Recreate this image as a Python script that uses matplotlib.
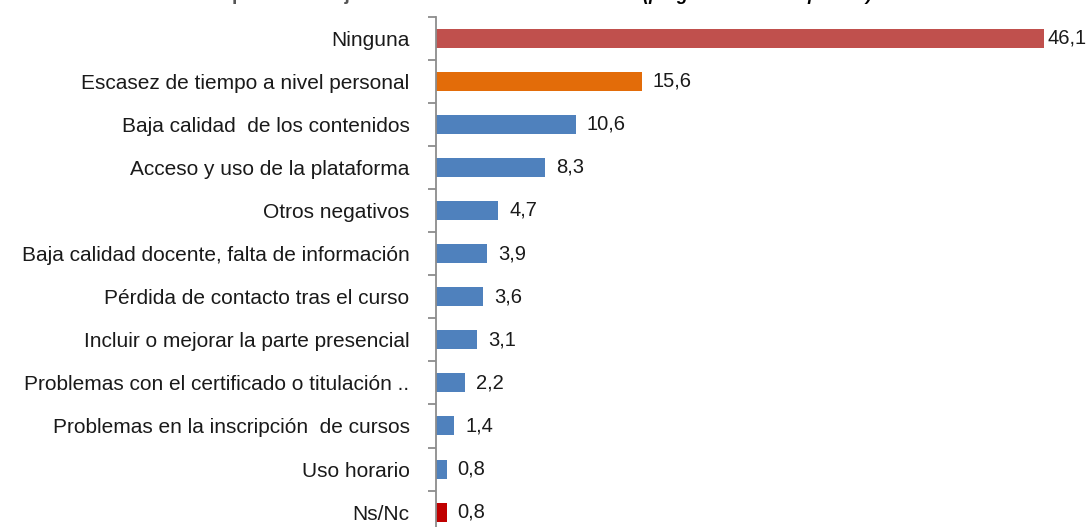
import matplotlib
matplotlib.use("Agg")
import matplotlib.pyplot as plt

categories = [
    "Ninguna",
    "Escasez de tiempo a nivel personal",
    "Baja calidad  de los contenidos",
    "Acceso y uso de la plataforma",
    "Otros negativos",
    "Baja calidad docente, falta de información",
    "Pérdida de contacto tras el curso",
    "Incluir o mejorar la parte presencial",
    "Problemas con el certificado o titulación ..",
    "Problemas en la inscripción  de cursos",
    "Uso horario",
    "Ns/Nc",
]
values = [46.1, 15.6, 10.6, 8.3, 4.7, 3.9, 3.6, 3.1, 2.2, 1.4, 0.8, 0.8]
colors = ["#C0504D", "#E36C09"] + ["#4F81BD"] * 9 + ["#C00000"]
title_main = "Aspectos a mejorar de los cursos en línea"
title_note = "(pregunta multirrespuesta)"

plt.rcParams["font.family"] = ["Liberation Sans", "DejaVu Sans"]

W, H = 1089, 527
fig = plt.figure(figsize=(W / 100, H / 100), dpi=100)
left_px, top_px, row = 436, 16.5, 43.1
n = len(categories)
ax_h = n * row
ax = fig.add_axes([left_px / W, 1 - (top_px + ax_h) / H, (W - left_px) / W, ax_h / H])

ypos = list(range(n))
ax.barh(ypos, values, height=0.44, color=colors, zorder=2)
ax.set_ylim(n - 0.5, -0.5)
ax.set_xlim(0, (W - left_px) / 13.19)

vmax = max(values)
for y, v in zip(ypos, values):
    off = 2.5 if v == vmax else 8
    ax.annotate(f"{v:.1f}".replace(".", ","), (v, y), xytext=(off, 0),
                textcoords="offset points", va="center", ha="left",
                fontsize=14.5, color="#1A1A1A")

ax.set_yticks(ypos)
ax.set_yticklabels(categories, fontsize=15, color="#1A1A1A")
ax.set_yticks([i - 0.5 for i in range(n + 1)], minor=True)
ax.tick_params(axis="y", which="major", length=0, pad=19)
ax.tick_params(axis="y", which="minor", length=6, color="#8C8C8C", width=1.3)
ax.set_xticks([])
for s in ["top", "right", "bottom"]:
    ax.spines[s].set_visible(False)
ax.spines["left"].set_color("#8C8C8C")
ax.spines["left"].set_linewidth(1.3)

# title cut off at the top edge, as in the reference
fig.text(207 / W, 1 + 0.5 / H, title_main, fontsize=14, color="#555555",
         fontweight="bold", ha="left", va="baseline")
fig.text(643 / W, 1 + 0.5 / H, title_note, fontsize=13, color="black",
         fontweight="bold", fontstyle="italic", ha="left", va="baseline")

fig.savefig("out.png", dpi=100)
